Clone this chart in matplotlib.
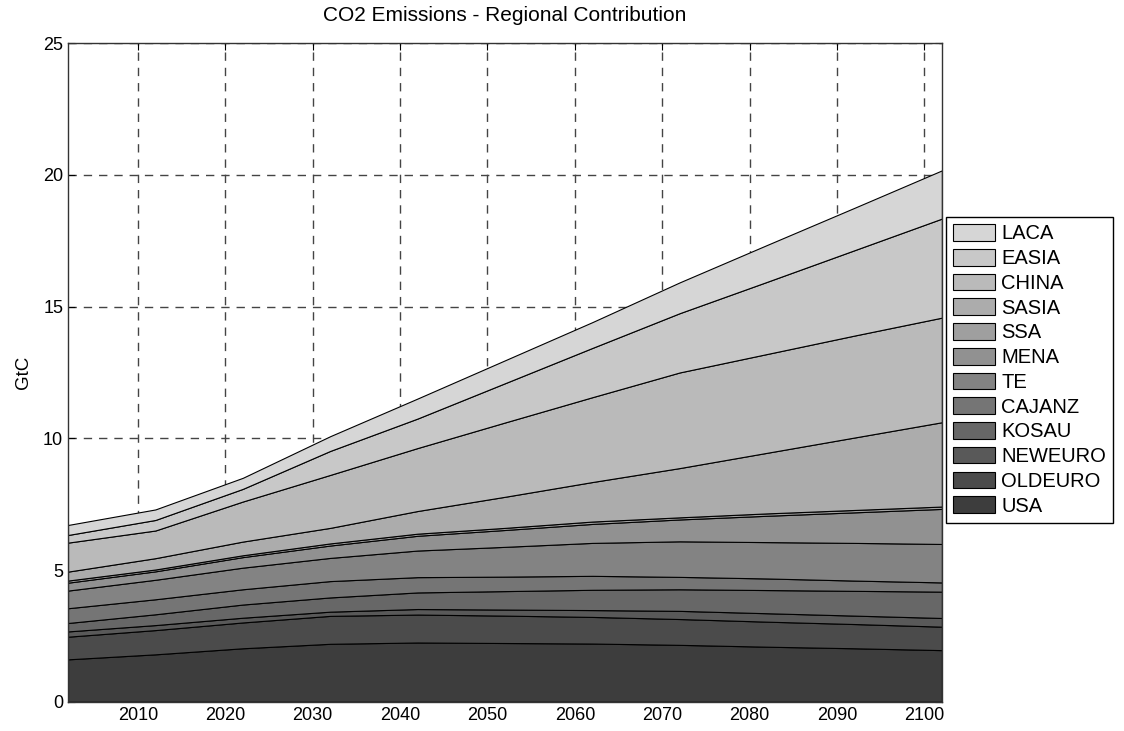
import matplotlib.pyplot as plt

# regional CO2 emissions, GtC per year
years = [2002, 2012, 2022, 2032, 2042, 2052, 2062, 2072, 2082, 2092, 2102]

usa = [1.61, 1.80, 2.03, 2.20, 2.25, 2.23, 2.21, 2.16, 2.09, 2.03, 1.96]
oldeuro = [0.86, 0.92, 0.98, 1.06, 1.06, 1.04, 1.01, 0.98, 0.95, 0.92, 0.89]
neweuro = [0.20, 0.19, 0.18, 0.16, 0.21, 0.23, 0.26, 0.31, 0.32, 0.32, 0.33]
kosau = [0.32, 0.41, 0.50, 0.54, 0.63, 0.70, 0.77, 0.82, 0.88, 0.94, 1.00]
cajanz = [0.56, 0.57, 0.58, 0.62, 0.58, 0.55, 0.53, 0.47, 0.44, 0.39, 0.35]
te = [0.67, 0.74, 0.82, 0.88, 1.01, 1.13, 1.25, 1.35, 1.38, 1.43, 1.46]
mena = [0.30, 0.32, 0.40, 0.47, 0.56, 0.64, 0.72, 0.83, 1.00, 1.16, 1.33]
ssa = [0.08, 0.07, 0.07, 0.08, 0.08, 0.08, 0.09, 0.08, 0.09, 0.09, 0.09]
sasia = [0.34, 0.43, 0.52, 0.59, 0.86, 1.18, 1.50, 1.87, 2.30, 2.75, 3.20]
china = [1.10, 1.05, 1.52, 2.01, 2.39, 2.82, 3.22, 3.63, 3.75, 3.87, 3.97]
easia = [0.29, 0.40, 0.48, 0.91, 1.12, 1.49, 1.87, 2.25, 2.74, 3.24, 3.76]
laca = [0.38, 0.40, 0.42, 0.56, 0.76, 0.87, 0.98, 1.17, 1.40, 1.61, 1.83]

regions = ["USA", "OLDEURO", "NEWEURO", "KOSAU", "CAJANZ", "TE",
           "MENA", "SSA", "SASIA", "CHINA", "EASIA", "LACA"]
series = [usa, oldeuro, neweuro, kosau, cajanz, te,
          mena, ssa, sasia, china, easia, laca]

plt.rcParams["font.family"] = ["Liberation Sans", "DejaVu Sans"]


def grays(n, dark=0.24, light=0.84):
    out = []
    for i in range(n):
        g = dark + (light - dark) * i / (n - 1)
        out.append((g, g, g))
    return out


def main():
    fig = plt.figure(figsize=(11.24, 7.31), dpi=100)
    ax = fig.add_axes([0.0605, 0.040, 0.7775, 0.901])

    polys = ax.stackplot(years, *series, colors=grays(len(series)),
                         edgecolor="black", linewidth=0.8, labels=regions)

    ax.set_xlim(years[0], years[-1])
    ax.set_ylim(0, 25)
    ax.set_xticks(range(2010, 2101, 10))
    ax.set_yticks([0, 5, 10, 15, 20, 25])
    ax.tick_params(direction="in", labelsize=13, length=5, top=True, right=True)

    ax.set_axisbelow(True)
    ax.grid(True, color="#444444", linestyle=(0, (6, 5)), linewidth=1.0)
    for s in ax.spines.values():
        s.set_color("#333333")
        s.set_linewidth(1.0)

    ax.set_title("CO2 Emissions - Regional Contribution", fontsize=15, pad=16)
    ax.set_ylabel("GtC", fontsize=13.5, labelpad=8)

    fig.legend(polys[::-1], regions[::-1], loc="upper left",
               bbox_to_anchor=(0.8416, 0.7031), borderaxespad=0,
               fontsize=14.5, fancybox=False, edgecolor="black", framealpha=1,
               handlelength=2.1, handleheight=0.9, labelspacing=0.27,
               handletextpad=0.3, borderpad=0.35)

    fig.savefig("out.png", dpi=100)


if __name__ == "__main__":
    main()
